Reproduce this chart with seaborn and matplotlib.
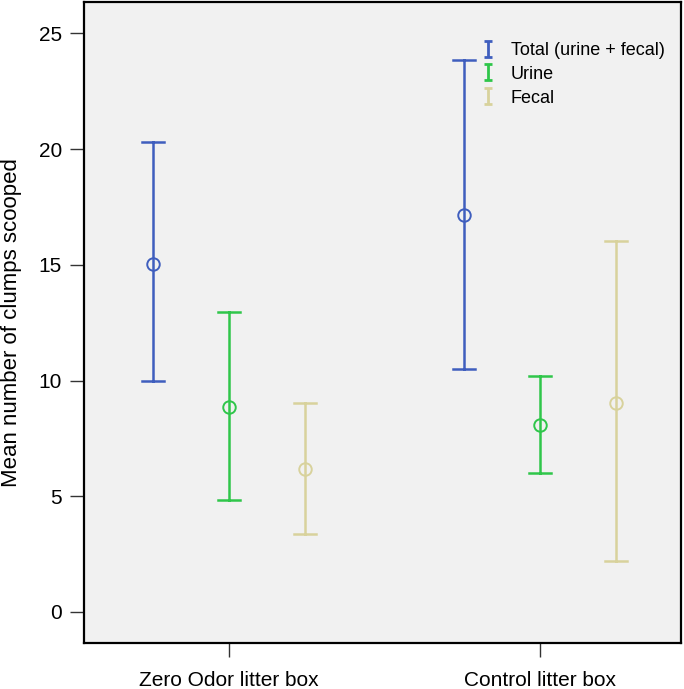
import seaborn as sns
import pandas as pd
import numpy as np
import matplotlib.pyplot as plt
from matplotlib.lines import Line2D
from matplotlib.path import Path

boxes = ['Zero Odor litter box', 'Control litter box']
types = ['Total (urine + fecal)', 'Urine', 'Fecal']
colors = ['#3f5ebe', '#2fc64a', '#d8d29c']

# mean, lower and upper end of each error bar, per box
total_mean = [15.05, 17.15]
total_low = [9.97, 10.5]
total_high = [20.3, 23.85]
urine_mean = [8.85, 8.08]
urine_low = [4.85, 6.0]
urine_high = [12.97, 10.2]
fecal_mean = [6.17, 9.03]
fecal_low = [3.37, 2.2]
fecal_high = [9.03, 16.03]

rows = []
for t, m, lo, hi in [(types[0], total_mean, total_low, total_high),
                     (types[1], urine_mean, urine_low, urine_high),
                     (types[2], fecal_mean, fecal_low, fecal_high)]:
    for i, b in enumerate(boxes):
        for v in (lo[i], m[i], hi[i]):
            rows.append({'Box': b, 'Type': t, 'value': v})
df = pd.DataFrame(rows)

plt.rcParams['font.family'] = ['Liberation Sans', 'DejaVu Sans']
fig = plt.figure(figsize=(6.84, 6.89), dpi=100)
ax = fig.add_axes([0.1228, 0.0668, 0.8728, 0.9302])
ax.set_facecolor('#f1f1f1')

# median of (low, mean, high) is the mean, 100% interval gives low..high
sns.pointplot(data=df, x='Box', y='value', hue='Type', order=boxes, hue_order=types,
              palette=colors, estimator='median', errorbar=('pi', 100),
              dodge=0.49, linestyle='none', markers='o', capsize=0.07,
              err_kws={'linewidth': 1.8}, markersize=9, markerfacecolor='none',
              markeredgewidth=1.4, legend=False, ax=ax)

ax.set_xlim(-0.466, 1.453)
ax.set_ylim(-1.34, 26.35)
ax.set_yticks([0, 5, 10, 15, 20, 25])
ax.set_xlabel('')
ax.set_ylabel('Mean number of clumps scooped', fontsize=16, labelpad=12)
ax.tick_params(axis='both', labelsize=15, length=10, width=1, color='#333333', direction='out')
ax.tick_params(axis='y', pad=6)
ax.tick_params(axis='x', pad=10)
for s in ax.spines.values():
    s.set_color('black')
    s.set_linewidth(1.6)

# little error-bar icon for the legend
cap_icon = Path([(-0.5, -1), (0.5, -1), (0, -1), (0, 1), (-0.5, 1), (0.5, 1)],
                [Path.MOVETO, Path.LINETO, Path.MOVETO, Path.LINETO, Path.MOVETO, Path.LINETO])
handles = [Line2D([], [], linestyle='none', marker=cap_icon, markersize=11,
                  markeredgewidth=2, color=c) for c in colors]
ax.legend(handles, types, loc='upper left', bbox_to_anchor=(0.647, 0.952), frameon=False,
          fontsize=13, borderpad=0, handlelength=1.0, handletextpad=0.75, labelspacing=0.38)

fig.savefig('out.png', dpi=100)
